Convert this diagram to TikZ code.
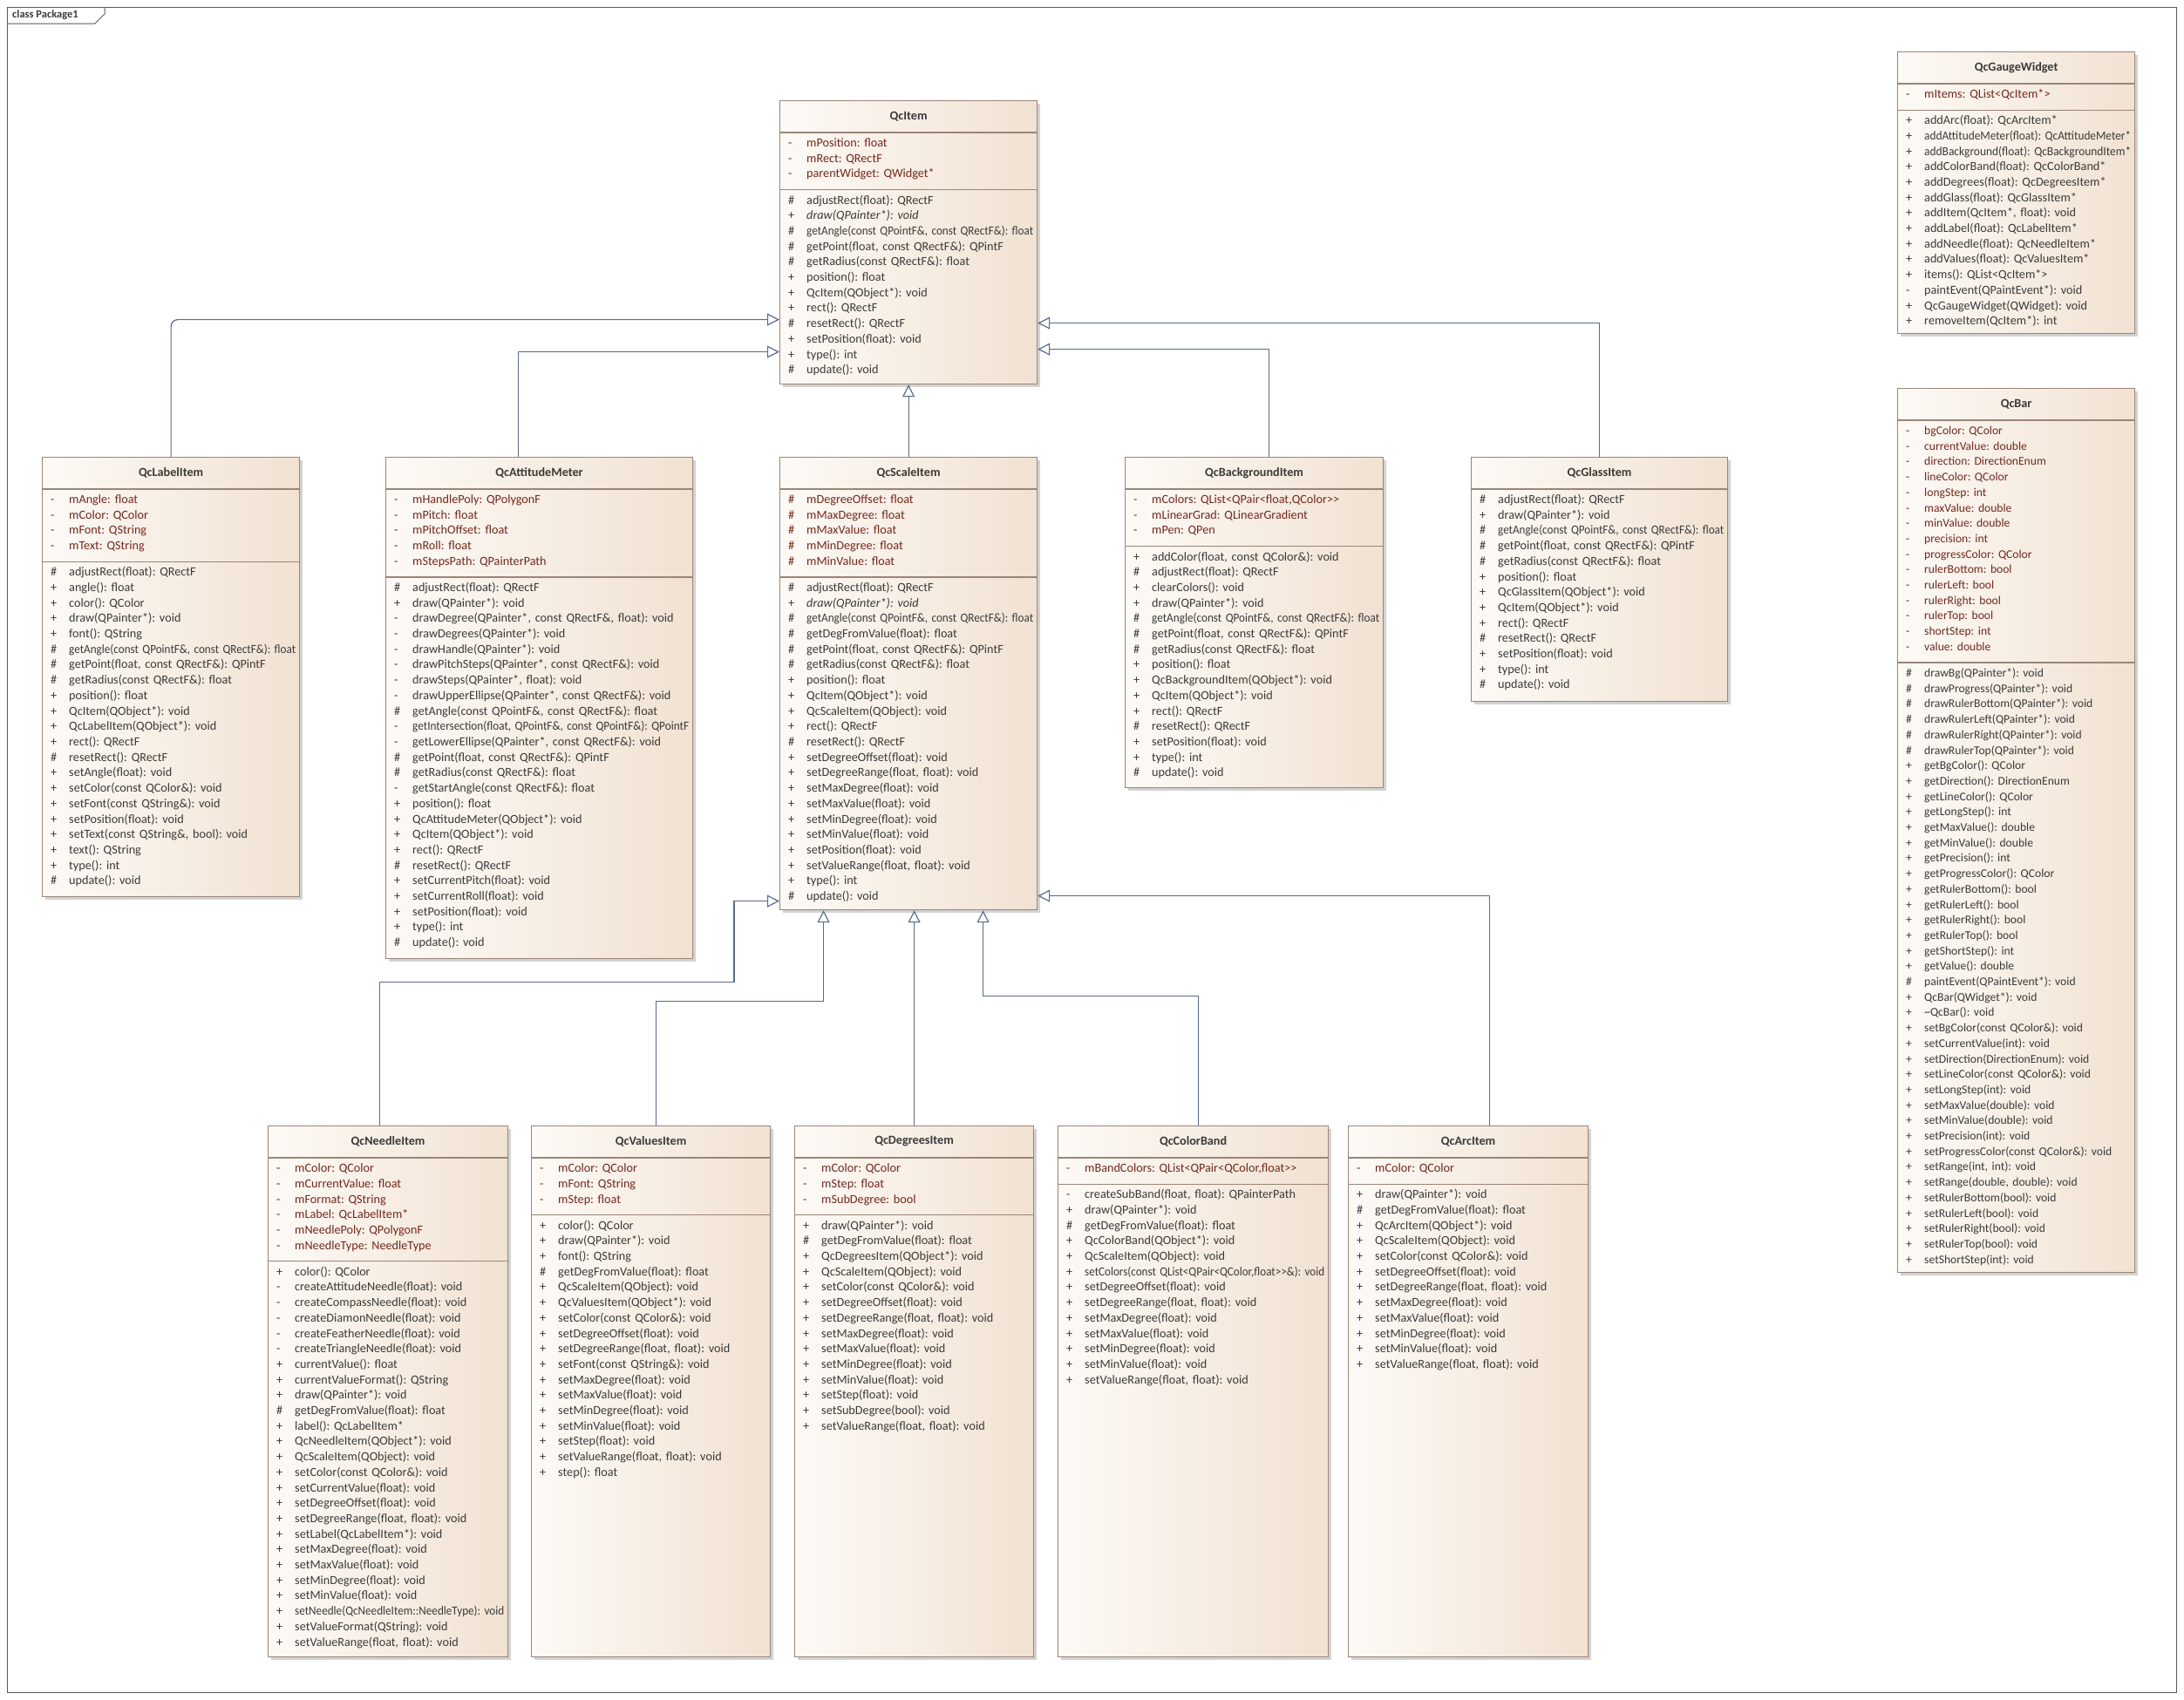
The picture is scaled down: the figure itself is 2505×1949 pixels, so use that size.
\documentclass[tikz,border=0pt]{standalone}
\usepackage{graphicx,xcolor}
\usepackage{fontspec}
\setmainfont{Carlito}[Ligatures=TeXOff]
\usepackage{tikz}
\usetikzlibrary{positioning, arrows.meta, calc, shadows}
\frenchspacing

\definecolor{boxline}{HTML}{9A8579}
\definecolor{boxl}{HTML}{FDFAF6}
\definecolor{boxr}{HTML}{F1E2D2}
\definecolor{attrtxt}{HTML}{72281E}
\definecolor{optxt}{HTML}{3A3A3A}
\definecolor{conn}{HTML}{5B6A8A}
\definecolor{frm}{HTML}{5A5A5A}

\newsavebox\rowbox
\newlength\markw \setlength\markw{21pt}
\newlength\rowlen \newlength\rowroom
% one compartment row: visibility mark, then the member, squeezed if too long
\newcommand\ur[2]{\strut\makebox[\markw][l]{#1}%
  \sbox\rowbox{#2}\setlength\rowlen{\wd\rowbox}%
  \setlength\rowroom{\hsize}\addtolength\rowroom{-\markw}%
  \ifdim\rowlen>\rowroom
    \pgfmathsetmacro\fitratio{\rowroom/\rowlen}\scalebox{\fitratio}[1]{\usebox\rowbox}%
  \else\usebox\rowbox\fi}

\begin{document}
\begin{tikzpicture}[x=1pt, y=-1pt,
    cls/.style={draw=boxline, line width=1.2pt, left color=boxl, right color=boxr,
      drop shadow={shadow xshift=3pt, shadow yshift=-3pt, fill=black!35},
      anchor=north west, inner sep=0pt},
    ttl/.style={font=\fontsize{14.2}{17.7}\selectfont\bfseries, text=optxt, inner sep=0pt},
    sepl/.style={draw=boxline, line width=1.2pt},
    attr/.style={anchor=north west, inner sep=0pt, align=left, text=attrtxt,
      font=\fontsize{14.2}{17.7}\selectfont},
    oper/.style={attr, text=optxt},
    gen/.style={draw=conn, line width=1.2pt, -{Triangle[open, length=14pt, width=14pt]}}]
  \useasboundingbox (0,0) rectangle (2505,1949);
  \fill[white] (0,0) rectangle (2505,1949);
  \node[draw=frm, line width=1pt, minimum width=2488pt, minimum height=1933pt,
    anchor=north west, inner sep=0pt] (frame) at (8,8) {};
  \draw[frm, line width=1pt] ([yshift=-19pt]frame.north west) -- ++(101,0) -- ++(11,-11) -- ++(0,-8);
  \node[anchor=west, inner sep=0pt, text=optxt, font=\fontsize{12.5}{14}\selectfont\bfseries]
    (pkg) at ([xshift=6pt,yshift=-9.5pt]frame.north west) {class Package1};

  % QcItem
  \node[cls, minimum width=295pt, minimum height=325pt] (item) at (894,115) {};
  \node[ttl] (item-t) at ([yshift=-18.5pt]item.north) {QcItem};
  \draw[sepl] ([yshift=-37pt]item.north west) -- ([yshift=-37pt]item.north east);
  \node[attr, text width=281pt] (item-a) at ([xshift=10pt,yshift=-41pt]item.north west) {%
    \ur{-}{mPosition: float}\\
    \ur{-}{mRect: QRectF}\\
    \ur{-}{parentWidget: QWidget*}};
  \draw[sepl] ($(item-a.south -| item.west)+(0,8)$) -- ($(item-a.south -| item.east)+(0,8)$);
  \node[oper, text width=281pt] (item-o) at ($(item-a.south west)+(0,12)$) {%
    \ur{\#}{adjustRect(float): QRectF}\\
    \ur{+}{\itshape draw(QPainter*): void}\\
    \ur{\#}{getAngle(const QPointF\&, const QRectF\&): float}\\
    \ur{\#}{getPoint(float, const QRectF\&): QPintF}\\
    \ur{\#}{getRadius(const QRectF\&): float}\\
    \ur{+}{position(): float}\\
    \ur{+}{QcItem(QObject*): void}\\
    \ur{+}{rect(): QRectF}\\
    \ur{\#}{resetRect(): QRectF}\\
    \ur{+}{setPosition(float): void}\\
    \ur{+}{type(): int}\\
    \ur{\#}{update(): void}};

  % QcGaugeWidget
  \node[cls, minimum width=272pt, minimum height=323pt] (gauge) at (2176,59) {};
  \node[ttl] (gauge-t) at ([yshift=-18.5pt]gauge.north) {QcGaugeWidget};
  \draw[sepl] ([yshift=-37pt]gauge.north west) -- ([yshift=-37pt]gauge.north east);
  \node[attr, text width=258pt] (gauge-a) at ([xshift=10pt,yshift=-41pt]gauge.north west) {%
    \ur{-}{mItems: QList<QcItem*>}};
  \draw[sepl] ($(gauge-a.south -| gauge.west)+(0,8)$) -- ($(gauge-a.south -| gauge.east)+(0,8)$);
  \node[oper, text width=258pt] (gauge-o) at ($(gauge-a.south west)+(0,12)$) {%
    \ur{+}{addArc(float): QcArcItem*}\\
    \ur{+}{addAttitudeMeter(float): QcAttitudeMeter*}\\
    \ur{+}{addBackground(float): QcBackgroundItem*}\\
    \ur{+}{addColorBand(float): QcColorBand*}\\
    \ur{+}{addDegrees(float): QcDegreesItem*}\\
    \ur{+}{addGlass(float): QcGlassItem*}\\
    \ur{+}{addItem(QcItem*, float): void}\\
    \ur{+}{addLabel(float): QcLabelItem*}\\
    \ur{+}{addNeedle(float): QcNeedleItem*}\\
    \ur{+}{addValues(float): QcValuesItem*}\\
    \ur{+}{items(): QList<QcItem*>}\\
    \ur{-}{paintEvent(QPaintEvent*): void}\\
    \ur{+}{QcGaugeWidget(QWidget): void}\\
    \ur{+}{removeItem(QcItem*): int}};

  % QcBar
  \node[cls, minimum width=272pt, minimum height=1014pt] (bar) at (2176,445) {};
  \node[ttl] (bar-t) at ([yshift=-18.5pt]bar.north) {QcBar};
  \draw[sepl] ([yshift=-37pt]bar.north west) -- ([yshift=-37pt]bar.north east);
  \node[attr, text width=258pt, font=\fontsize{13.6}{17.7}\selectfont] (bar-a)
    at ([xshift=10pt,yshift=-41pt]bar.north west) {%
    \ur{-}{bgColor: QColor}\\
    \ur{-}{currentValue: double}\\
    \ur{-}{direction: DirectionEnum}\\
    \ur{-}{lineColor: QColor}\\
    \ur{-}{longStep: int}\\
    \ur{-}{maxValue: double}\\
    \ur{-}{minValue: double}\\
    \ur{-}{precision: int}\\
    \ur{-}{progressColor: QColor}\\
    \ur{-}{rulerBottom: bool}\\
    \ur{-}{rulerLeft: bool}\\
    \ur{-}{rulerRight: bool}\\
    \ur{-}{rulerTop: bool}\\
    \ur{-}{shortStep: int}\\
    \ur{-}{value: double}};
  \draw[sepl] ($(bar-a.south -| bar.west)+(0,8)$) -- ($(bar-a.south -| bar.east)+(0,8)$);
  \node[oper, text width=258pt, font=\fontsize{13.6}{17.7}\selectfont] (bar-o)
    at ($(bar-a.south west)+(0,12)$) {%
    \ur{\#}{drawBg(QPainter*): void}\\
    \ur{\#}{drawProgress(QPainter*): void}\\
    \ur{\#}{drawRulerBottom(QPainter*): void}\\
    \ur{\#}{drawRulerLeft(QPainter*): void}\\
    \ur{\#}{drawRulerRight(QPainter*): void}\\
    \ur{\#}{drawRulerTop(QPainter*): void}\\
    \ur{+}{getBgColor(): QColor}\\
    \ur{+}{getDirection(): DirectionEnum}\\
    \ur{+}{getLineColor(): QColor}\\
    \ur{+}{getLongStep(): int}\\
    \ur{+}{getMaxValue(): double}\\
    \ur{+}{getMinValue(): double}\\
    \ur{+}{getPrecision(): int}\\
    \ur{+}{getProgressColor(): QColor}\\
    \ur{+}{getRulerBottom(): bool}\\
    \ur{+}{getRulerLeft(): bool}\\
    \ur{+}{getRulerRight(): bool}\\
    \ur{+}{getRulerTop(): bool}\\
    \ur{+}{getShortStep(): int}\\
    \ur{+}{getValue(): double}\\
    \ur{\#}{paintEvent(QPaintEvent*): void}\\
    \ur{+}{QcBar(QWidget*): void}\\
    \ur{+}{\textasciitilde QcBar(): void}\\
    \ur{+}{setBgColor(const QColor\&): void}\\
    \ur{+}{setCurrentValue(int): void}\\
    \ur{+}{setDirection(DirectionEnum): void}\\
    \ur{+}{setLineColor(const QColor\&): void}\\
    \ur{+}{setLongStep(int): void}\\
    \ur{+}{setMaxValue(double): void}\\
    \ur{+}{setMinValue(double): void}\\
    \ur{+}{setPrecision(int): void}\\
    \ur{+}{setProgressColor(const QColor\&): void}\\
    \ur{+}{setRange(int, int): void}\\
    \ur{+}{setRange(double, double): void}\\
    \ur{+}{setRulerBottom(bool): void}\\
    \ur{+}{setRulerLeft(bool): void}\\
    \ur{+}{setRulerRight(bool): void}\\
    \ur{+}{setRulerTop(bool): void}\\
    \ur{+}{setShortStep(int): void}};

  % QcLabelItem
  \node[cls, minimum width=295pt, minimum height=504pt] (lab) at (48,524) {};
  \node[ttl] (lab-t) at ([yshift=-18.5pt]lab.north) {QcLabelItem};
  \draw[sepl] ([yshift=-37pt]lab.north west) -- ([yshift=-37pt]lab.north east);
  \node[attr, text width=281pt] (lab-a) at ([xshift=10pt,yshift=-41pt]lab.north west) {%
    \ur{-}{mAngle: float}\\
    \ur{-}{mColor: QColor}\\
    \ur{-}{mFont: QString}\\
    \ur{-}{mText: QString}};
  \draw[sepl] ($(lab-a.south -| lab.west)+(0,8)$) -- ($(lab-a.south -| lab.east)+(0,8)$);
  \node[oper, text width=281pt] (lab-o) at ($(lab-a.south west)+(0,12)$) {%
    \ur{\#}{adjustRect(float): QRectF}\\
    \ur{+}{angle(): float}\\
    \ur{+}{color(): QColor}\\
    \ur{+}{draw(QPainter*): void}\\
    \ur{+}{font(): QString}\\
    \ur{\#}{getAngle(const QPointF\&, const QRectF\&): float}\\
    \ur{\#}{getPoint(float, const QRectF\&): QPintF}\\
    \ur{\#}{getRadius(const QRectF\&): float}\\
    \ur{+}{position(): float}\\
    \ur{+}{QcItem(QObject*): void}\\
    \ur{+}{QcLabelItem(QObject*): void}\\
    \ur{+}{rect(): QRectF}\\
    \ur{\#}{resetRect(): QRectF}\\
    \ur{+}{setAngle(float): void}\\
    \ur{+}{setColor(const QColor\&): void}\\
    \ur{+}{setFont(const QString\&): void}\\
    \ur{+}{setPosition(float): void}\\
    \ur{+}{setText(const QString\&, bool): void}\\
    \ur{+}{text(): QString}\\
    \ur{+}{type(): int}\\
    \ur{\#}{update(): void}};

  % QcAttitudeMeter
  \node[cls, minimum width=352pt, minimum height=575pt] (att) at (442,524) {};
  \node[ttl] (att-t) at ([yshift=-18.5pt]att.north) {QcAttitudeMeter};
  \draw[sepl] ([yshift=-37pt]att.north west) -- ([yshift=-37pt]att.north east);
  \node[attr, text width=338pt] (att-a) at ([xshift=10pt,yshift=-41pt]att.north west) {%
    \ur{-}{mHandlePoly: QPolygonF}\\
    \ur{-}{mPitch: float}\\
    \ur{-}{mPitchOffset: float}\\
    \ur{-}{mRoll: float}\\
    \ur{-}{mStepsPath: QPainterPath}};
  \draw[sepl] ($(att-a.south -| att.west)+(0,8)$) -- ($(att-a.south -| att.east)+(0,8)$);
  \node[oper, text width=338pt] (att-o) at ($(att-a.south west)+(0,12)$) {%
    \ur{\#}{adjustRect(float): QRectF}\\
    \ur{+}{draw(QPainter*): void}\\
    \ur{-}{drawDegree(QPainter*, const QRectF\&, float): void}\\
    \ur{-}{drawDegrees(QPainter*): void}\\
    \ur{-}{drawHandle(QPainter*): void}\\
    \ur{-}{drawPitchSteps(QPainter*, const QRectF\&): void}\\
    \ur{-}{drawSteps(QPainter*, float): void}\\
    \ur{-}{drawUpperEllipse(QPainter*, const QRectF\&): void}\\
    \ur{\#}{getAngle(const QPointF\&, const QRectF\&): float}\\
    \ur{-}{getIntersection(float, QPointF\&, const QPointF\&): QPointF}\\
    \ur{-}{getLowerEllipse(QPainter*, const QRectF\&): void}\\
    \ur{\#}{getPoint(float, const QRectF\&): QPintF}\\
    \ur{\#}{getRadius(const QRectF\&): float}\\
    \ur{-}{getStartAngle(const QRectF\&): float}\\
    \ur{+}{position(): float}\\
    \ur{+}{QcAttitudeMeter(QObject*): void}\\
    \ur{+}{QcItem(QObject*): void}\\
    \ur{+}{rect(): QRectF}\\
    \ur{\#}{resetRect(): QRectF}\\
    \ur{+}{setCurrentPitch(float): void}\\
    \ur{+}{setCurrentRoll(float): void}\\
    \ur{+}{setPosition(float): void}\\
    \ur{+}{type(): int}\\
    \ur{\#}{update(): void}};

  % QcScaleItem
  \node[cls, minimum width=295pt, minimum height=519pt] (sca) at (894,524) {};
  \node[ttl] (sca-t) at ([yshift=-18.5pt]sca.north) {QcScaleItem};
  \draw[sepl] ([yshift=-37pt]sca.north west) -- ([yshift=-37pt]sca.north east);
  \node[attr, text width=281pt] (sca-a) at ([xshift=10pt,yshift=-41pt]sca.north west) {%
    \ur{\#}{mDegreeOffset: float}\\
    \ur{\#}{mMaxDegree: float}\\
    \ur{\#}{mMaxValue: float}\\
    \ur{\#}{mMinDegree: float}\\
    \ur{\#}{mMinValue: float}};
  \draw[sepl] ($(sca-a.south -| sca.west)+(0,8)$) -- ($(sca-a.south -| sca.east)+(0,8)$);
  \node[oper, text width=281pt] (sca-o) at ($(sca-a.south west)+(0,12)$) {%
    \ur{\#}{adjustRect(float): QRectF}\\
    \ur{+}{\itshape draw(QPainter*): void}\\
    \ur{\#}{getAngle(const QPointF\&, const QRectF\&): float}\\
    \ur{\#}{getDegFromValue(float): float}\\
    \ur{\#}{getPoint(float, const QRectF\&): QPintF}\\
    \ur{\#}{getRadius(const QRectF\&): float}\\
    \ur{+}{position(): float}\\
    \ur{+}{QcItem(QObject*): void}\\
    \ur{+}{QcScaleItem(QObject): void}\\
    \ur{+}{rect(): QRectF}\\
    \ur{\#}{resetRect(): QRectF}\\
    \ur{+}{setDegreeOffset(float): void}\\
    \ur{+}{setDegreeRange(float, float): void}\\
    \ur{+}{setMaxDegree(float): void}\\
    \ur{+}{setMaxValue(float): void}\\
    \ur{+}{setMinDegree(float): void}\\
    \ur{+}{setMinValue(float): void}\\
    \ur{+}{setPosition(float): void}\\
    \ur{+}{setValueRange(float, float): void}\\
    \ur{+}{type(): int}\\
    \ur{\#}{update(): void}};

  % QcBackgroundItem
  \node[cls, minimum width=296pt, minimum height=379pt] (bkg) at (1290,524) {};
  \node[ttl] (bkg-t) at ([yshift=-18.5pt]bkg.north) {QcBackgroundItem};
  \draw[sepl] ([yshift=-37pt]bkg.north west) -- ([yshift=-37pt]bkg.north east);
  \node[attr, text width=282pt] (bkg-a) at ([xshift=10pt,yshift=-41pt]bkg.north west) {%
    \ur{-}{mColors: QList<QPair<float,QColor>>}\\
    \ur{-}{mLinearGrad: QLinearGradient}\\
    \ur{-}{mPen: QPen}};
  \draw[sepl] ($(bkg-a.south -| bkg.west)+(0,8)$) -- ($(bkg-a.south -| bkg.east)+(0,8)$);
  \node[oper, text width=282pt] (bkg-o) at ($(bkg-a.south west)+(0,12)$) {%
    \ur{+}{addColor(float, const QColor\&): void}\\
    \ur{\#}{adjustRect(float): QRectF}\\
    \ur{+}{clearColors(): void}\\
    \ur{+}{draw(QPainter*): void}\\
    \ur{\#}{getAngle(const QPointF\&, const QRectF\&): float}\\
    \ur{\#}{getPoint(float, const QRectF\&): QPintF}\\
    \ur{\#}{getRadius(const QRectF\&): float}\\
    \ur{+}{position(): float}\\
    \ur{+}{QcBackgroundItem(QObject*): void}\\
    \ur{+}{QcItem(QObject*): void}\\
    \ur{+}{rect(): QRectF}\\
    \ur{\#}{resetRect(): QRectF}\\
    \ur{+}{setPosition(float): void}\\
    \ur{+}{type(): int}\\
    \ur{\#}{update(): void}};

  % QcGlassItem
  \node[cls, minimum width=294pt, minimum height=280pt] (gls) at (1687,524) {};
  \node[ttl] (gls-t) at ([yshift=-18.5pt]gls.north) {QcGlassItem};
  \draw[sepl] ([yshift=-37pt]gls.north west) -- ([yshift=-37pt]gls.north east);
  \node[oper, text width=280pt] (gls-o) at ([xshift=10pt,yshift=-41pt]gls.north west) {%
    \ur{\#}{adjustRect(float): QRectF}\\
    \ur{+}{draw(QPainter*): void}\\
    \ur{\#}{getAngle(const QPointF\&, const QRectF\&): float}\\
    \ur{\#}{getPoint(float, const QRectF\&): QPintF}\\
    \ur{\#}{getRadius(const QRectF\&): float}\\
    \ur{+}{position(): float}\\
    \ur{+}{QcGlassItem(QObject*): void}\\
    \ur{+}{QcItem(QObject*): void}\\
    \ur{+}{rect(): QRectF}\\
    \ur{\#}{resetRect(): QRectF}\\
    \ur{+}{setPosition(float): void}\\
    \ur{+}{type(): int}\\
    \ur{\#}{update(): void}};

  % QcNeedleItem
  \node[cls, minimum width=275pt, minimum height=609pt] (ndl) at (307,1291) {};
  \node[ttl] (ndl-t) at ([yshift=-18.5pt]ndl.north) {QcNeedleItem};
  \draw[sepl] ([yshift=-37pt]ndl.north west) -- ([yshift=-37pt]ndl.north east);
  \node[attr, text width=261pt] (ndl-a) at ([xshift=10pt,yshift=-41pt]ndl.north west) {%
    \ur{-}{mColor: QColor}\\
    \ur{-}{mCurrentValue: float}\\
    \ur{-}{mFormat: QString}\\
    \ur{-}{mLabel: QcLabelItem*}\\
    \ur{-}{mNeedlePoly: QPolygonF}\\
    \ur{-}{mNeedleType: NeedleType}};
  \draw[sepl] ($(ndl-a.south -| ndl.west)+(0,8)$) -- ($(ndl-a.south -| ndl.east)+(0,8)$);
  \node[oper, text width=261pt] (ndl-o) at ($(ndl-a.south west)+(0,12)$) {%
    \ur{+}{color(): QColor}\\
    \ur{-}{createAttitudeNeedle(float): void}\\
    \ur{-}{createCompassNeedle(float): void}\\
    \ur{-}{createDiamonNeedle(float): void}\\
    \ur{-}{createFeatherNeedle(float): void}\\
    \ur{-}{createTriangleNeedle(float): void}\\
    \ur{+}{currentValue(): float}\\
    \ur{+}{currentValueFormat(): QString}\\
    \ur{+}{draw(QPainter*): void}\\
    \ur{\#}{getDegFromValue(float): float}\\
    \ur{+}{label(): QcLabelItem*}\\
    \ur{+}{QcNeedleItem(QObject*): void}\\
    \ur{+}{QcScaleItem(QObject): void}\\
    \ur{+}{setColor(const QColor\&): void}\\
    \ur{+}{setCurrentValue(float): void}\\
    \ur{+}{setDegreeOffset(float): void}\\
    \ur{+}{setDegreeRange(float, float): void}\\
    \ur{+}{setLabel(QcLabelItem*): void}\\
    \ur{+}{setMaxDegree(float): void}\\
    \ur{+}{setMaxValue(float): void}\\
    \ur{+}{setMinDegree(float): void}\\
    \ur{+}{setMinValue(float): void}\\
    \ur{+}{setNeedle(QcNeedleItem::NeedleType): void}\\
    \ur{+}{setValueFormat(QString): void}\\
    \ur{+}{setValueRange(float, float): void}};

  % QcValuesItem
  \node[cls, minimum width=274pt, minimum height=609pt] (val) at (609,1291) {};
  \node[ttl] (val-t) at ([yshift=-18.5pt]val.north) {QcValuesItem};
  \draw[sepl] ([yshift=-37pt]val.north west) -- ([yshift=-37pt]val.north east);
  \node[attr, text width=260pt] (val-a) at ([xshift=10pt,yshift=-41pt]val.north west) {%
    \ur{-}{mColor: QColor}\\
    \ur{-}{mFont: QString}\\
    \ur{-}{mStep: float}};
  \draw[sepl] ($(val-a.south -| val.west)+(0,8)$) -- ($(val-a.south -| val.east)+(0,8)$);
  \node[oper, text width=260pt] (val-o) at ($(val-a.south west)+(0,12)$) {%
    \ur{+}{color(): QColor}\\
    \ur{+}{draw(QPainter*): void}\\
    \ur{+}{font(): QString}\\
    \ur{\#}{getDegFromValue(float): float}\\
    \ur{+}{QcScaleItem(QObject): void}\\
    \ur{+}{QcValuesItem(QObject*): void}\\
    \ur{+}{setColor(const QColor\&): void}\\
    \ur{+}{setDegreeOffset(float): void}\\
    \ur{+}{setDegreeRange(float, float): void}\\
    \ur{+}{setFont(const QString\&): void}\\
    \ur{+}{setMaxDegree(float): void}\\
    \ur{+}{setMaxValue(float): void}\\
    \ur{+}{setMinDegree(float): void}\\
    \ur{+}{setMinValue(float): void}\\
    \ur{+}{setStep(float): void}\\
    \ur{+}{setValueRange(float, float): void}\\
    \ur{+}{step(): float}};

  % QcDegreesItem
  \node[cls, minimum width=274pt, minimum height=609pt] (deg) at (911,1291) {};
  \node[ttl] (deg-t) at ([yshift=-18.5pt]deg.north) {QcDegreesItem};
  \draw[sepl] ([yshift=-37pt]deg.north west) -- ([yshift=-37pt]deg.north east);
  \node[attr, text width=260pt] (deg-a) at ([xshift=10pt,yshift=-41pt]deg.north west) {%
    \ur{-}{mColor: QColor}\\
    \ur{-}{mStep: float}\\
    \ur{-}{mSubDegree: bool}};
  \draw[sepl] ($(deg-a.south -| deg.west)+(0,8)$) -- ($(deg-a.south -| deg.east)+(0,8)$);
  \node[oper, text width=260pt] (deg-o) at ($(deg-a.south west)+(0,12)$) {%
    \ur{+}{draw(QPainter*): void}\\
    \ur{\#}{getDegFromValue(float): float}\\
    \ur{+}{QcDegreesItem(QObject*): void}\\
    \ur{+}{QcScaleItem(QObject): void}\\
    \ur{+}{setColor(const QColor\&): void}\\
    \ur{+}{setDegreeOffset(float): void}\\
    \ur{+}{setDegreeRange(float, float): void}\\
    \ur{+}{setMaxDegree(float): void}\\
    \ur{+}{setMaxValue(float): void}\\
    \ur{+}{setMinDegree(float): void}\\
    \ur{+}{setMinValue(float): void}\\
    \ur{+}{setStep(float): void}\\
    \ur{+}{setSubDegree(bool): void}\\
    \ur{+}{setValueRange(float, float): void}};

  % QcColorBand
  \node[cls, minimum width=310pt, minimum height=609pt] (cbd) at (1213,1291) {};
  \node[ttl] (cbd-t) at ([yshift=-18.5pt]cbd.north) {QcColorBand};
  \draw[sepl] ([yshift=-37pt]cbd.north west) -- ([yshift=-37pt]cbd.north east);
  \node[attr, text width=296pt] (cbd-a) at ([xshift=10pt,yshift=-41pt]cbd.north west) {%
    \ur{-}{mBandColors: QList<QPair<QColor,float>>}};
  \draw[sepl] ($(cbd-a.south -| cbd.west)+(0,8)$) -- ($(cbd-a.south -| cbd.east)+(0,8)$);
  \node[oper, text width=296pt] (cbd-o) at ($(cbd-a.south west)+(0,12)$) {%
    \ur{-}{createSubBand(float, float): QPainterPath}\\
    \ur{+}{draw(QPainter*): void}\\
    \ur{\#}{getDegFromValue(float): float}\\
    \ur{+}{QcColorBand(QObject*): void}\\
    \ur{+}{QcScaleItem(QObject): void}\\
    \ur{+}{setColors(const QList<QPair<QColor,float>>\&): void}\\
    \ur{+}{setDegreeOffset(float): void}\\
    \ur{+}{setDegreeRange(float, float): void}\\
    \ur{+}{setMaxDegree(float): void}\\
    \ur{+}{setMaxValue(float): void}\\
    \ur{+}{setMinDegree(float): void}\\
    \ur{+}{setMinValue(float): void}\\
    \ur{+}{setValueRange(float, float): void}};

  % QcArcItem
  \node[cls, minimum width=275pt, minimum height=609pt] (arc) at (1546,1291) {};
  \node[ttl] (arc-t) at ([yshift=-18.5pt]arc.north) {QcArcItem};
  \draw[sepl] ([yshift=-37pt]arc.north west) -- ([yshift=-37pt]arc.north east);
  \node[attr, text width=261pt] (arc-a) at ([xshift=10pt,yshift=-41pt]arc.north west) {%
    \ur{-}{mColor: QColor}};
  \draw[sepl] ($(arc-a.south -| arc.west)+(0,8)$) -- ($(arc-a.south -| arc.east)+(0,8)$);
  \node[oper, text width=261pt] (arc-o) at ($(arc-a.south west)+(0,12)$) {%
    \ur{+}{draw(QPainter*): void}\\
    \ur{\#}{getDegFromValue(float): float}\\
    \ur{+}{QcArcItem(QObject*): void}\\
    \ur{+}{QcScaleItem(QObject): void}\\
    \ur{+}{setColor(const QColor\&): void}\\
    \ur{+}{setDegreeOffset(float): void}\\
    \ur{+}{setDegreeRange(float, float): void}\\
    \ur{+}{setMaxDegree(float): void}\\
    \ur{+}{setMaxValue(float): void}\\
    \ur{+}{setMinDegree(float): void}\\
    \ur{+}{setMinValue(float): void}\\
    \ur{+}{setValueRange(float, float): void}};

  % generalisations
  \draw[gen, rounded corners=8pt] (lab.north) |- ([yshift=-88.5pt]item.west);
  \draw[gen] ([xshift=-24pt]att.north) |- ([yshift=-125.5pt]item.west);
  \draw[gen] (sca.north) -- (item.south);
  \draw[gen] ([xshift=17pt]bkg.north) |- ([yshift=-122.5pt]item.east);
  \draw[gen] (gls.north) |- ([yshift=-92.5pt]item.east);
  \draw[gen] ([xshift=-10pt]ndl.north) |- ([xshift=-52pt,yshift=-342.5pt]sca.west)
    |- ([yshift=-249.5pt]sca.west);
  \draw[gen] ([xshift=6pt]val.north) |- ([xshift=-97.5pt,yshift=-104pt]sca.south)
    -- ([xshift=-97.5pt]sca.south);
  \draw[gen] (deg.north) -- (deg.north |- sca.south);
  \draw[gen] ([xshift=6pt]cbd.north) |- ([xshift=85.5pt,yshift=-98pt]sca.south)
    -- ([xshift=85.5pt]sca.south);
  \draw[gen] ([xshift=24.5pt]arc.north) |- ([yshift=-243.5pt]sca.east);
\end{tikzpicture}
\end{document}
